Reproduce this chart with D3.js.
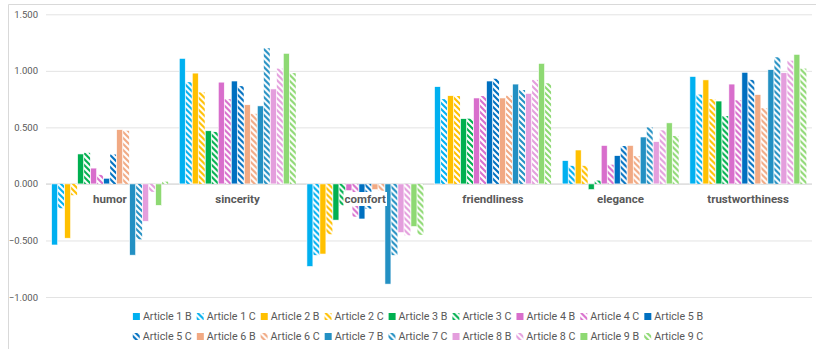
<!DOCTYPE html>
<html>
<head>
<meta charset="UTF-8">
<script src="https://d3js.org/d3.v7.min.js"></script>
<style>
  * { margin: 0; padding: 0; box-sizing: border-box; }
  body { background: #fff; font-family: Roboto, "Open Sans", sans-serif; }
</style>
</head>
<body>
<div id="chart"></div>
<script>
const categories = ["humor", "sincerity", "comfort", "friendliness", "elegance", "trustworthiness"];
const seriesNames = ["Article 1 B", "Article 1 C", "Article 2 B", "Article 2 C", "Article 3 B", "Article 3 C",
  "Article 4 B", "Article 4 C", "Article 5 B", "Article 5 C", "Article 6 B", "Article 6 C",
  "Article 7 B", "Article 7 C", "Article 8 B", "Article 8 C", "Article 9 B", "Article 9 C"];
const articleColors = ["#00B0F0", "#FFC000", "#00B050", "#D86ECC", "#0070C0", "#F1A983", "#2390C3", "#E49EDD", "#8ED973"];
const yTicks = [-1.0, -0.5, 0, 0.5, 1.0, 1.5];

// values per series, in order of categories
const humor          = [-0.54, -0.215, -0.48, -0.10, 0.265, 0.275, 0.14, 0.08, 0.05, 0.26, 0.48, 0.47, -0.63, -0.49, -0.33, -0.07, -0.19, 0.02];
const sincerity      = [1.11, 0.90, 0.98, 0.81, 0.47, 0.46, 0.90, 0.75, 0.91, 0.865, 0.70, 0.62, 0.69, 1.20, 0.84, 1.02, 1.155, 0.98];
const comfort        = [-0.73, -0.63, -0.62, -0.445, -0.32, -0.19, -0.06, -0.29, -0.31, -0.22, -0.05, -0.06, -0.886, -0.63, -0.43, -0.455, -0.377, -0.45];
const friendliness   = [0.86, 0.75, 0.78, 0.777, 0.577, 0.577, 0.76, 0.777, 0.91, 0.93, 0.76, 0.78, 0.883, 0.83, 0.80, 0.92, 1.066, 0.89];
const elegance       = [0.206, 0.16, 0.30, 0.16, -0.05, 0.03, 0.34, 0.17, 0.25, 0.335, 0.34, 0.247, 0.415, 0.50, 0.374, 0.474, 0.54, 0.424];
const trustworthiness= [0.95, 0.79, 0.92, 0.75, 0.733, 0.60, 0.883, 0.74, 0.987, 0.92, 0.79, 0.67, 1.01, 1.12, 0.983, 1.09, 1.146, 1.02];

const valuesByCat = [humor, sincerity, comfort, friendliness, elegance, trustworthiness];

const W = 816, H = 349;
const plot = {left: 46, right: 812, top: 14.3, bottom: 297};

const svg = d3.select("#chart").append("svg").attr("width", W).attr("height", H);
const defs = svg.append("defs");

const colorOf = i => articleColors[Math.floor(i / 2)];
const hatched = i => i % 2 === 1;

articleColors.forEach((c, k) => {
  const p = defs.append("pattern")
    .attr("id", "hatch" + k)
    .attr("patternUnits", "userSpaceOnUse")
    .attr("width", 6).attr("height", 6);
  p.append("rect").attr("width", 6).attr("height", 6).attr("fill", "#fff");
  p.append("path")
    .attr("d", "M-1,-1 L7,7 M-1,5 L1,7 M5,-1 L7,1")
    .attr("stroke", c).attr("stroke-width", 2.1);
});
const fillOf = i => hatched(i) ? `url(#hatch${Math.floor(i / 2)})` : colorOf(i);

// chart border
svg.append("path")
  .attr("d", `M8.5,${H} L8.5,4.5 L${W},4.5`)
  .attr("fill", "none").attr("stroke", "#d9d9d9");

const y = d3.scaleLinear().domain([-1, 1.5]).range([plot.bottom, plot.top]);
const x0 = d3.scaleBand().domain(categories).range([plot.left, plot.right]).paddingInner(0.079).paddingOuter(0.04);
const x1 = d3.scaleBand().domain(d3.range(seriesNames.length)).range([0, x0.bandwidth()]).padding(0.08);

// grid
svg.append("g")
  .attr("transform", `translate(${plot.left},0)`)
  .call(d3.axisLeft(y).tickValues(yTicks).tickSize(-(plot.right - plot.left)).tickFormat(""))
  .call(g => g.select(".domain").remove())
  .selectAll("line").attr("stroke", "#e3e3e3");

// y labels
svg.append("g")
  .attr("transform", `translate(${plot.left},0)`)
  .call(d3.axisLeft(y).tickValues(yTicks).tickSize(0).tickPadding(8).tickFormat(d3.format(".3f")))
  .call(g => g.select(".domain").remove())
  .selectAll("text")
  .style("font-family", "Roboto, sans-serif")
  .style("font-size", "9.5px")
  .attr("fill", "#595959");

// zero line
svg.append("line")
  .attr("x1", plot.left).attr("x2", plot.right)
  .attr("y1", y(0)).attr("y2", y(0))
  .attr("stroke", "#d9d9d9");

// bars
const groups = svg.selectAll(".grp").data(categories).enter().append("g")
  .attr("transform", d => `translate(${x0(d)},0)`);

groups.selectAll("rect")
  .data((d, ci) => valuesByCat[ci].map((v, i) => ({v, i})))
  .enter().append("rect")
  .attr("x", d => x1(d.i))
  .attr("width", x1.bandwidth())
  .attr("y", d => y(Math.max(0, d.v)))
  .attr("height", d => Math.abs(y(d.v) - y(0)))
  .attr("fill", d => fillOf(d.i))
  .attr("stroke", d => hatched(d.i) ? "none" : "#fff")
  .attr("stroke-width", 0.6);

// category labels with white background
const labels = svg.selectAll(".cat").data(categories).enter().append("g");
labels.each(function(d) {
  const g = d3.select(this);
  const t = g.append("text")
    .attr("x", x0(d) + x0.bandwidth() / 2)
    .attr("y", 203)
    .attr("text-anchor", "middle")
    .style("font-family", "Roboto, sans-serif")
    .style("font-size", "11.5px")
    .style("font-weight", "bold")
    .attr("fill", "#595959")
    .text(d);
  const b = t.node().getBBox();
  g.insert("rect", "text")
    .attr("x", b.x - 1).attr("y", b.y).attr("width", b.width + 2).attr("height", b.height)
    .attr("fill", "#fff");
});

// legend
const rows = [d3.range(0, 9), d3.range(9, 18)];
const rowY = [320, 340];
rows.forEach((idxs, r) => {
  const lg = svg.append("g");
  let cx = 0;
  idxs.forEach(i => {
    const it = lg.append("g").attr("transform", `translate(${cx},0)`);
    it.append("rect")
      .attr("x", 0).attr("y", rowY[r] - 7)
      .attr("width", 7).attr("height", 7)
      .attr("fill", fillOf(i));
    const t = it.append("text")
      .attr("x", 10).attr("y", rowY[r])
      .style("font-family", "Roboto, sans-serif")
      .style("font-size", "10.7px")
      .attr("fill", "#595959")
      .text(seriesNames[i]);
    cx += 10 + t.node().getComputedTextLength() + 5;
  });
  const total = cx - 5;
  lg.attr("transform", `translate(${418 - total / 2},0)`);
});
</script>
</body>
</html>
